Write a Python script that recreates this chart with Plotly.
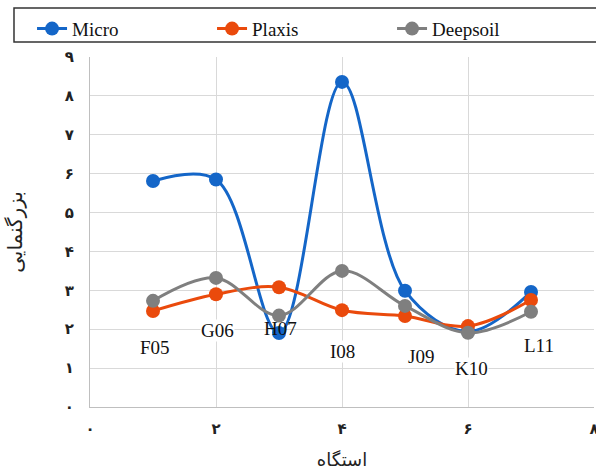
import plotly.graph_objects as go

stations = ["F05", "G06", "H07", "I08", "J09", "K10", "L11"]
x_index = [1, 2, 3, 4, 5, 6, 7]
micro = [5.81, 5.85, 1.90, 8.36, 2.99, 1.94, 2.96]
plaxis = [2.47, 2.90, 3.08, 2.49, 2.34, 2.08, 2.75]
deepsoil = [2.73, 3.32, 2.35, 3.50, 2.60, 1.91, 2.45]

series_names = ["Micro", "Plaxis", "Deepsoil"]
colors = ["#1466C8", "#EA4A0C", "#7F7F7F"]

persian_digits = ["۰", "۱", "۲", "۳", "۴", "۵", "۶", "۷", "۸", "۹"]
x_ticks = [0, 2, 4, 6, 8]
y_ticks = list(range(10))

fig = go.Figure()
for name, vals, col in zip(series_names, [micro, plaxis, deepsoil], colors):
    fig.add_trace(go.Scatter(
        x=x_index, y=vals, name=name, mode="lines+markers",
        line=dict(color=col, width=3, shape="spline", smoothing=1.0),
        marker=dict(color=col, size=14),
    ))

# station label placement (layout offsets relative to station index)
label_dx = [0.03, 0.03, 0.02, 0.0, 0.25, 0.06, 0.12]
label_y = [1.52, 1.98, 2.03, 1.42, 1.31, 1.0, 1.59]
for st, xi, dx, ly in zip(stations, x_index, label_dx, label_y):
    fig.add_annotation(
        x=xi + dx, y=ly, text=st, showarrow=False,
        font=dict(family="Liberation Serif", size=19, color="#111"),
        bgcolor=None if st == "H07" else "white", borderpad=0,
    )

# legend frame
fig.add_shape(type="rect", xref="paper", yref="paper",
              x0=-0.1508, x1=1.03, y0=1.043, y1=1.14,
              line=dict(color="#333", width=1.5), fillcolor="rgba(0,0,0,0)")

fig.update_layout(
    width=596, height=472,
    margin=dict(l=90, r=2, t=57, b=65, autoexpand=False),
    paper_bgcolor="white", plot_bgcolor="white",
    showlegend=True,
    legend=dict(orientation="h", x=-0.115, y=1.135, xanchor="left", yanchor="top",
                font=dict(family="Liberation Serif", size=19, color="#111"),
                entrywidth=135, bgcolor="rgba(0,0,0,0)", borderwidth=0),
    xaxis=dict(range=[0, 8], tickvals=x_ticks,
               ticktext=[persian_digits[v] for v in x_ticks],
               showgrid=True, gridcolor="#d9d9d9", gridwidth=1,
               showline=True, linecolor="#bfbfbf", linewidth=1,
               zeroline=False, ticks="", ticklabelstandoff=8, automargin=False,
               ticklabeloverflow="allow",
               tickfont=dict(family="DejaVu Sans", size=15, color="#222", weight="bold"),
               title=dict(text="استگاه", standoff=16,
                          font=dict(family="DejaVu Sans", size=18, color="#222"))),
    yaxis=dict(range=[0, 9], tickvals=y_ticks,
               ticktext=[persian_digits[v] for v in y_ticks],
               showgrid=True, gridcolor="#d9d9d9", gridwidth=1,
               showline=True, linecolor="#bfbfbf", linewidth=1,
               zeroline=False, ticks="", ticklabelstandoff=12, automargin=False,
               tickfont=dict(family="DejaVu Sans", size=15, color="#222", weight="bold"),
               title=dict(text="بزرگنمایی", standoff=36,
                          font=dict(family="DejaVu Sans", size=20, color="#222"))),
)

fig.write_html(
    "out.html",
    config={"displayModeBar": False},
    post_script="document.body.style.margin='0';document.body.style.overflow='hidden';",
)
